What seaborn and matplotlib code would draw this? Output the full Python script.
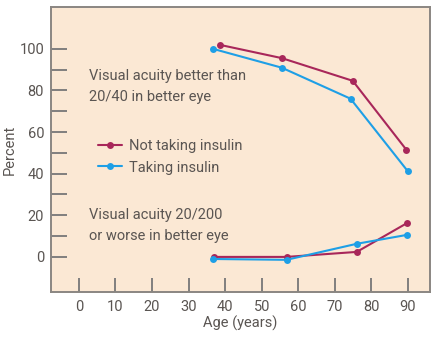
import matplotlib
matplotlib.use("Agg")
import matplotlib.pyplot as plt
import seaborn as sns
import pandas as pd

ages_not = [38.5, 55.5, 74.9, 89.6]
ages_taking = [36.6, 55.5, 74.3, 89.9]
better_not = [101.9, 95.5, 84.6, 51.4]
better_taking = [100.0, 90.9, 76.0, 41.3]
ages_low_not = [37.0, 56.8, 76.0, 89.8]
ages_low_taking = [36.6, 56.8, 76.0, 89.8]
worse_not = [0.0, 0.0, 2.4, 16.3]
worse_taking = [-1.0, -1.4, 6.3, 10.6]
series = ["Not taking insulin", "Taking insulin"]
xticks = [0, 10, 20, 30, 40, 50, 60, 70, 80, 90]
yticks = [0, 20, 40, 60, 80, 100]

upper = pd.DataFrame({
    "age": ages_not + ages_taking,
    "pct": better_not + better_taking,
    "status": [series[0]] * 4 + [series[1]] * 4,
})
lower = pd.DataFrame({
    "age": ages_low_not + ages_low_taking,
    "pct": worse_not + worse_taking,
    "status": [series[0]] * 4 + [series[1]] * 4,
})

sns.set_theme(style="white")
plt.rcParams["font.family"] = ["Roboto", "DejaVu Sans"]
text_col = "#5a5552"
palette = {series[0]: "#a8275a", series[1]: "#1e9fe6"}

fig = plt.figure(figsize=(4.4, 3.39), dpi=100)
ax = fig.add_axes([0.116, 0.139, 0.861, 0.840])
ax.set_facecolor("#fbe8d4")

for df, leg in ((upper, True), (lower, False)):
    sns.lineplot(data=df, x="age", y="pct", hue="status", palette=palette,
                 estimator=None, sort=False, marker="o", markersize=5,
                 markeredgewidth=0, linewidth=1.5, legend=leg, ax=ax)

ax.set_xlim(-7.6, 96)
ax.set_ylim(-16.8, 120)
ax.set_xticks(xticks)
ax.set_yticks(yticks)
ax.set_yticks(list(range(0, 101, 10)), minor=True)
ax.tick_params(axis="x", direction="in", length=10, width=1.3, color="#777",
               labelsize=10.5, labelcolor=text_col, pad=6, bottom=True)
ax.tick_params(axis="y", which="both", direction="in", length=11.5, width=1.3,
               color="#777", left=True)
ax.tick_params(axis="y", which="major", labelsize=10.5, labelcolor=text_col, pad=5)
for s in ax.spines.values():
    s.set_color("#8a8682")
    s.set_linewidth(1.4)

ax.set_xlabel("Age (years)", fontsize=10.5, color=text_col, labelpad=1)
ax.set_ylabel("Percent", fontsize=10.5, color=text_col, labelpad=2)

ax.text(0.10, 0.783, "Visual acuity better than\n20/40 in better eye",
        transform=ax.transAxes, fontsize=10.5, color=text_col, va="top",
        linespacing=1.6)
ax.text(0.10, 0.293, "Visual acuity 20/200\nor worse in better eye",
        transform=ax.transAxes, fontsize=10.5, color=text_col, va="top",
        linespacing=1.6)

leg = ax.legend(loc="upper left", bbox_to_anchor=(0.09, 0.582), frameon=False,
                fontsize=10.5, handlelength=1.6, handletextpad=0.5,
                labelspacing=0.5, title=None)
for t in leg.get_texts():
    t.set_color(text_col)

fig.savefig("out.png", dpi=100, facecolor="white")
